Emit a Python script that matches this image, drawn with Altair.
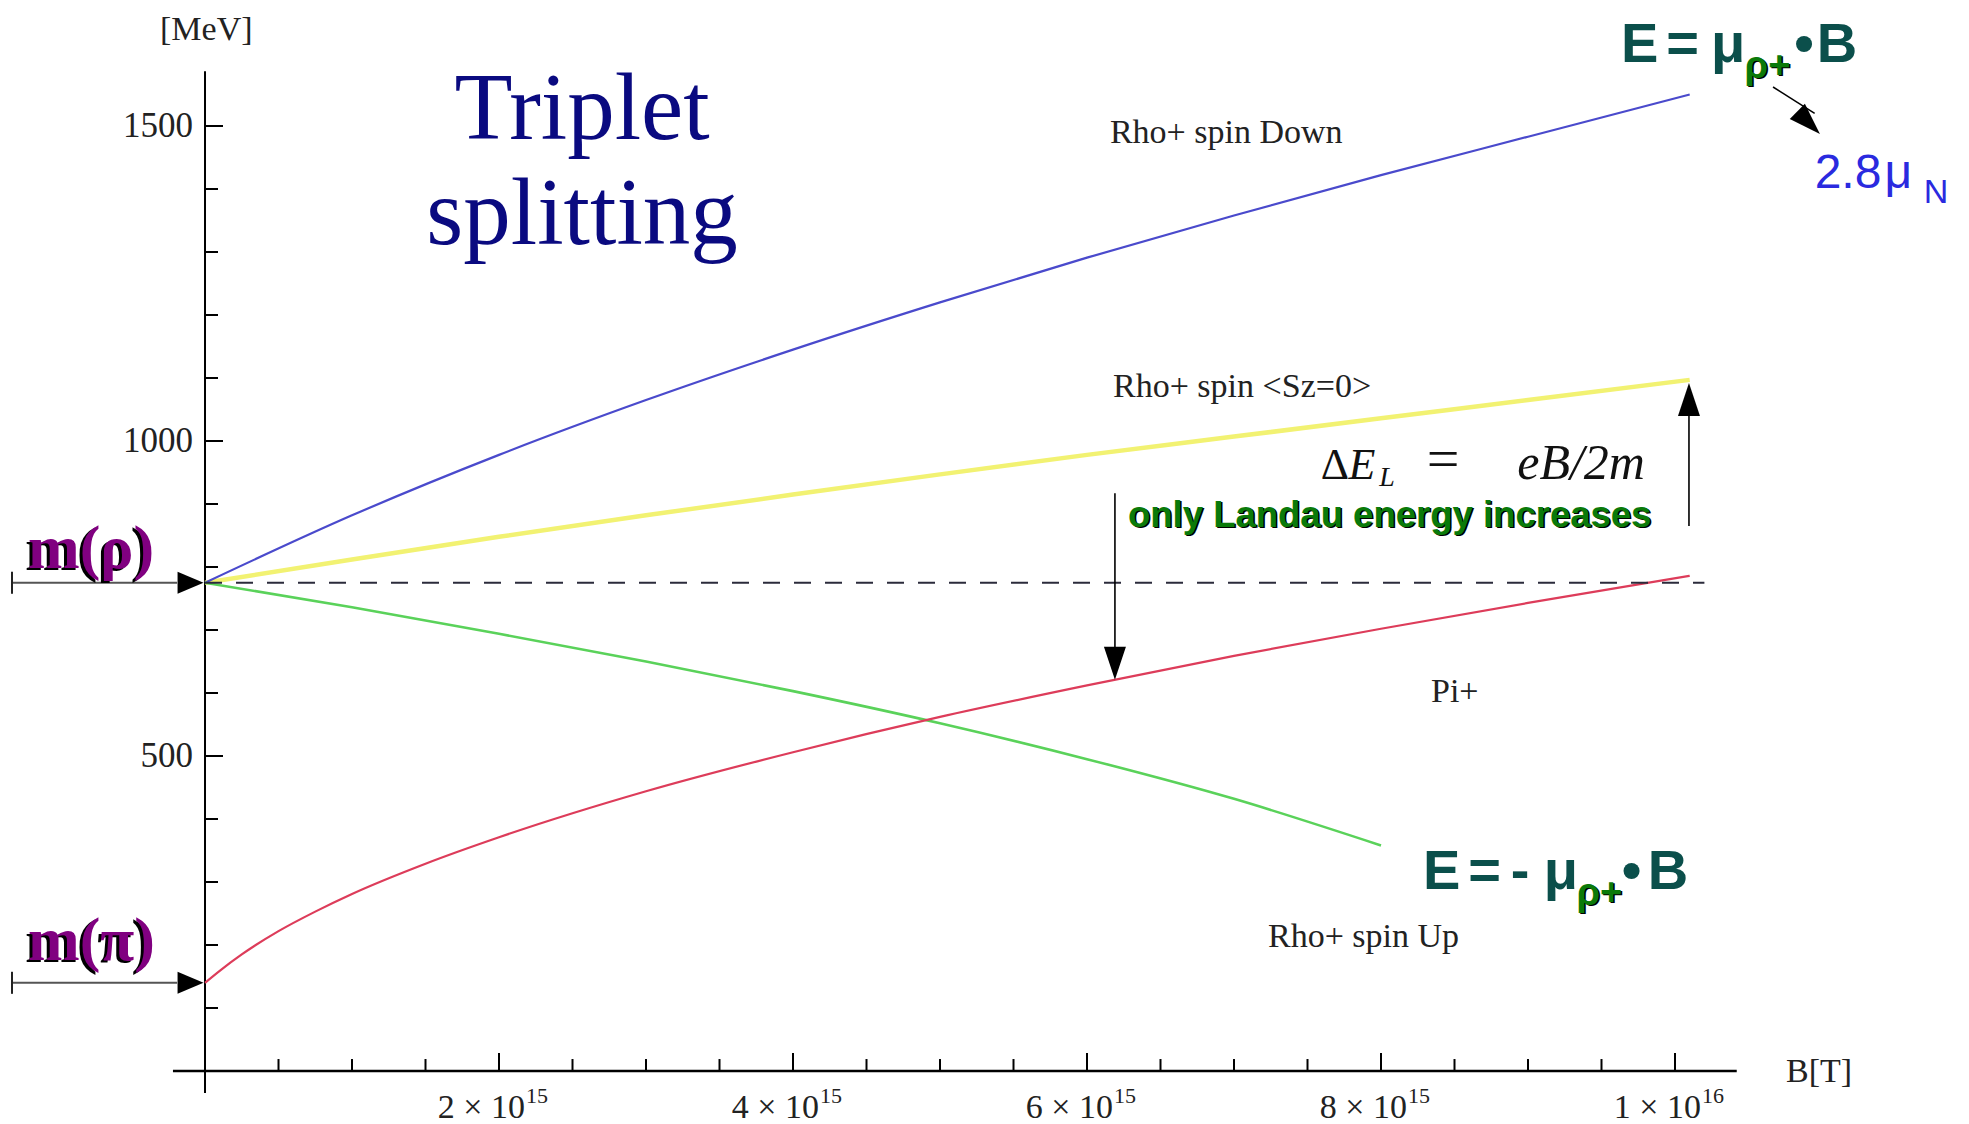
import altair as alt
import pandas as pd

# ---------------- values (B in units of 1e15 T, E in MeV) -------------
B_rho_down = [0, 1, 2, 3, 4, 5, 6, 7, 8, 9, 10.1]
E_rho_down = [775, 882, 978, 1065, 1145, 1220, 1291, 1358, 1422, 1483, 1550]

B_rho_sz0 = [0, 1, 2, 3, 4, 5, 6, 7, 8, 9, 10.1]
E_rho_sz0 = [775, 812, 848, 882, 915, 947, 978, 1007, 1036, 1065, 1097]

B_rho_up = [0, 1, 2, 3, 4, 5, 6, 7, 8]
E_rho_up = [775, 736, 694, 650, 603, 552, 495, 432, 358]

B_pi = [0, 0.1, 0.25, 0.5, 0.75, 1, 1.5, 2, 3, 4, 5, 6, 7, 8, 9, 10.1]
E_pi = [140, 159, 185, 222, 253, 281, 329, 371, 444, 506, 562, 612, 659, 702, 743, 786]

M_RHO = 775
M_PI = 140
RHO_LINE_END = 10.2

X_MAJOR = [2, 4, 6, 8, 10]
X_MANTISSA = ["2 × 10", "4 × 10", "6 × 10", "8 × 10", "1 × 10"]
X_EXPONENT = ["15", "15", "15", "15", "16"]
X_MINOR = [0.5, 1, 1.5, 2.5, 3, 3.5, 4.5, 5, 5.5, 6.5, 7, 7.5, 8.5, 9, 9.5]
Y_MAJOR = [500, 1000, 1500]
Y_LABELS = ["500", "1000", "1500"]
Y_MINOR = [100, 200, 300, 400, 600, 700, 800, 900, 1100, 1200, 1300, 1400]

# ---------------- scales ----------------
XDOM = [-1.3946, 12.0]
YDOM = [-84.13, 1700.0]
xs = alt.Scale(domain=XDOM, nice=False, zero=False)
ys = alt.Scale(domain=YDOM, nice=False, zero=False)


def X(f):
    return alt.X(f + ":Q", scale=xs, axis=None)


def Y(f):
    return alt.Y(f + ":Q", scale=ys, axis=None)


SERIF = "Liberation Serif, Times New Roman, serif"
SANS = "Liberation Sans, Arial, sans-serif"


def rules(rows, color, width, dash=None):
    df = pd.DataFrame(rows, columns=["B", "B2", "E", "E2"])
    kw = dict(color=color, strokeWidth=width)
    if dash:
        kw["strokeDash"] = dash
    return alt.Chart(df).mark_rule(**kw).encode(
        x=X("B"), x2=alt.X2("B2:Q"), y=Y("E"), y2=alt.Y2("E2:Q"))


def curve(bs, es, color, width, dash=None):
    df = pd.DataFrame({"B": bs, "E": es})
    kw = dict(color=color, strokeWidth=width, interpolate="monotone")
    if dash:
        kw["strokeDash"] = dash
    return alt.Chart(df).mark_line(**kw).encode(x=X("B"), y=Y("E"))


def texts(rows, font, size, color, align="left", baseline="alphabetic",
          weight="normal", style="normal", dx=0, dy=0):
    df = pd.DataFrame(rows, columns=["t", "B", "E"])
    return alt.Chart(df).mark_text(
        font=font, fontSize=size, color=color, align=align, baseline=baseline,
        fontWeight=weight, fontStyle=style, dx=dx, dy=dy
    ).encode(x=X("B"), y=Y("E"), text="t:N")


def heads(rows, shape, size, angle=0):
    df = pd.DataFrame(rows, columns=["B", "E"])
    return alt.Chart(df).mark_point(
        shape=shape, size=size, filled=True, color="black", opacity=1,
        strokeWidth=0, angle=angle
    ).encode(x=X("B"), y=Y("E"))


layers = []

# ---- axes (Mathematica style, crossing) ----
layers.append(rules([[-0.218, 10.42, 0, 0]], "black", 2.6))
layers.append(rules([[0, 0, -35, 1587]], "black", 2))
tick_rows = [[b, b, 0, 28.6] for b in X_MAJOR] + [[b, b, 0, 19] for b in X_MINOR]
tick_rows += [[0, 0.1224, e, e] for e in Y_MAJOR] + [[0, 0.0884, e, e] for e in Y_MINOR]
layers.append(rules(tick_rows, "black", 2))

# ---- curves ----
layers.append(curve(B_rho_sz0, E_rho_sz0, "#f2f272", 4.5))
layers.append(curve(B_rho_down, E_rho_down, "#4a4acc", 2.2))
layers.append(curve(B_rho_up, E_rho_up, "#5ad25a", 2.6))
layers.append(curve(B_pi, E_pi, "#dd3c5a", 2.2))
layers.append(curve([0, RHO_LINE_END], [M_RHO, M_RHO], "#2b2b3b", 2, dash=[17, 14]))

# ---- arrows ----
layers.append(rules([[-1.313, -0.19, M_RHO, M_RHO], [-1.313, -0.19, M_PI, M_PI]], "#555555", 2))
layers.append(rules([[-1.313, -1.313, M_RHO - 17.5, M_RHO + 17.5],
                     [-1.313, -1.313, M_PI - 17.5, M_PI + 17.5]], "#222222", 2))
layers.append(heads([[-0.01, M_RHO], [-0.01, M_PI]], "M0,0L-2,-0.85L-2,0.85Z", 676))
layers.append(rules([[6.19, 6.19, 917, 650], [10.095, 10.095, 865, 1060]], "black", 1.6))
layers.append(heads([[6.19, 621]], "M0,0L-0.667,-2L0.667,-2Z", 1089))
layers.append(heads([[10.095, 1092]], "M0,0L-0.667,2L0.667,2Z", 1089))
layers.append(rules([[10.667, 10.95, 1561.9, 1520]], "black", 1.5))
layers.append(heads([[10.986, 1487.3]], "M0,0L-0.667,2L0.667,2Z", 1024, angle=135))

# ---- axis labels ----
layers.append(texts([[t, -0.082, v] for t, v in zip(Y_LABELS, Y_MAJOR)], SERIF, 35, "#222222",
                    align="right", baseline="middle"))
layers.append(texts([[t, b + 0.177, -74.6] for t, b in zip(X_MANTISSA, X_MAJOR)], SERIF, 34, "#222222",
                    align="right"))
layers.append(texts([[t, b + 0.184, -50.8] for t, b in zip(X_EXPONENT, X_MAJOR)], SERIF, 22, "#222222"))
layers.append(texts([["[MeV]", -0.306, 1636.5], ["B[T]", 10.755, -17.5]], SERIF, 34, "#222222"))

# ---- curve labels ----
layers.append(texts([["Rho+ spin Down", 6.156, 1473.0],
                     ["Rho+ spin <Sz=0>", 6.177, 1069.8],
                     ["Pi+", 8.34, 585.7],
                     ["Rho+ spin Up", 7.231, 196.8]], SERIF, 34, "#222222"))

# ---- title ----
layers.append(texts([["Triplet", 2.565, 1479.4], ["splitting", 2.565, 1312.7]], SERIF, 95, "#0a0a80",
                    align="center"))

# ---- m(rho), m(pi) ----
mass_rows = [["m(ρ)", -1.204, 798.4], ["m(π)", -1.204, 176.2]]
layers.append(texts(mass_rows, SERIF, 62, "black", weight="bold", dx=-3, dy=2))
layers.append(texts(mass_rows, SERIF, 62, "#800080", weight="bold"))

# ---- E = mu . B formulas (pieces centred on their glyph positions) ----
TEAL = "#0b4f4b"
GREEN = "#0a7a0a"
big_rows = [["E", 9.759, 1601.6], ["=", 10.051, 1601.6], ["μ", 10.361, 1601.6],
            ["•", 10.878, 1601.6], ["B", 11.102, 1601.6],
            ["E", 8.412, 288.9], ["=", 8.704, 288.9], ["-", 8.946, 288.9], ["μ", 9.224, 288.9],
            ["•", 9.704, 288.9], ["B", 9.952, 288.9]]
layers.append(texts(big_rows, SANS, 56, TEAL, align="center", weight="bold"))
sub_rows = [["ρ+", 10.629, 1576.2], ["ρ+", 9.486, 263.5]]
layers.append(texts(sub_rows, SANS, 38, "black", align="center", weight="bold", dx=1.5, dy=1.5))
layers.append(texts(sub_rows, SANS, 38, GREEN, align="center", weight="bold"))

# ---- 2.8 mu_N ----
layers.append(texts([["2.8", 11.177, 1401.6], ["μ", 11.520, 1401.6]], SANS, 48, "#2a2adf",
                    align="center"))
layers.append(texts([["N", 11.776, 1377.8]], SANS, 34, "#2a2adf", align="center"))

# ---- Landau annotation ----
land = [["only Landau energy increases", 6.279, 863.5]]
layers.append(texts(land, SANS, 36.5, "black", weight="bold", dx=1.5, dy=1.5))
layers.append(texts(land, SANS, 36.5, GREEN, weight="bold"))

# ---- Delta E_L = eB/2m ----
layers.append(texts([["Δ", 7.687, 939.7]], SERIF, 44, "#111111", align="center"))
layers.append(texts([["=", 8.422, 941.0]], SERIF, 58, "#111111", align="center"))
layers.append(texts([["E", 7.871, 939.7]], SERIF, 44, "#111111", align="center", style="italic"))
layers.append(texts([["eB/2m", 9.361, 939.7]], SERIF, 50, "#111111", align="center", style="italic"))
layers.append(texts([["L", 8.041, 929.0]], SERIF, 28, "#111111", align="center", style="italic"))

chart = alt.layer(*layers).properties(
    width=1969, height=1124,
    autosize=alt.AutoSizeParams(type="none"),
    padding=0,
    background="white",
).configure_view(stroke=None)

chart.save("out.html", embed_options={"renderer": "svg", "actions": False})
